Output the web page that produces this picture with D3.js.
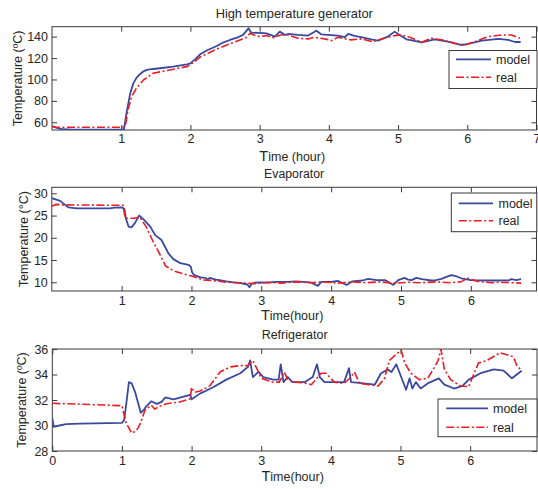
<!DOCTYPE html>
<html>
<head>
<meta charset="utf-8">
<script src="https://cdn.jsdelivr.net/npm/d3@7"></script>
<style>
  body { margin: 0; background: #fff; }
  text { font-family: Arial, "Liberation Sans", sans-serif; fill: #262626; }
</style>
</head>
<body>
<svg id="chart" width="538" height="489"></svg>
<script>
// ---- Data: [hour, temperature °C] ----
const generatorModel = [[0,56.5],[0.06,55],[0.15,53.5],[0.3,53.2],[1.0,53.2],[1.04,53.5],[1.08,70],[1.13,87],[1.175,96.4],[1.22,101.5],[1.27,104.9],[1.32,107.5],[1.37,108.9],[1.46,109.8],[1.56,110.5],[1.75,112],[1.95,114.2],[2.0,115],[2.07,119],[2.14,123.5],[2.25,127.5],[2.38,131.3],[2.47,134.5],[2.57,136.9],[2.67,139],[2.76,141.6],[2.84,147.8],[2.88,143.7],[3.0,143.5],[3.1,143],[3.22,140],[3.29,144.7],[3.37,141.6],[3.41,142.5],[3.55,141.6],[3.70,141],[3.82,145.6],[3.89,142.2],[4.13,141],[4.23,139.5],[4.28,142.5],[4.37,140.7],[4.5,139],[4.61,137.5],[4.71,136.3],[4.85,140],[4.95,144.7],[5.0,142.5],[5.12,137.5],[5.2,136.5],[5.34,134.7],[5.53,137.5],[5.72,135.3],[5.92,132.2],[6.01,133.2],[6.21,136.3],[6.45,137.9],[6.59,137],[6.69,135],[6.77,135]];
const generatorReal = [[0,56],[0.05,55.3],[1.02,55.3],[1.06,57],[1.1,72],[1.15,84],[1.22,91.8],[1.32,99.5],[1.46,105.8],[1.7,108.9],[1.95,112],[2.05,116],[2.14,121],[2.27,125],[2.4,129],[2.6,134],[2.8,139],[2.86,143],[2.92,141.5],[3.0,140],[3.1,141],[3.2,139],[3.3,141.5],[3.41,141.6],[3.55,138.5],[3.7,137.9],[3.79,139.4],[3.94,137.9],[4.04,136.3],[4.13,139.4],[4.32,137],[4.47,137.9],[4.63,135.3],[4.8,138.5],[4.95,141],[5.05,141.6],[5.17,139.4],[5.34,134.7],[5.48,138.5],[5.63,137],[5.82,133.8],[5.96,132.2],[6.11,135.3],[6.3,140],[6.5,141.6],[6.64,141.6],[6.76,138.5]];

const evaporatorModel = [[0,28.9],[0.12,28.3],[0.19,27.4],[0.236,26.85],[0.36,26.6],[0.83,26.6],[0.9,26.8],[1.0,26.85],[1.04,26.5],[1.06,24.4],[1.1,22.5],[1.14,22.35],[1.19,23.3],[1.25,25],[1.31,24.2],[1.41,22.5],[1.48,20.6],[1.57,19.5],[1.67,16.5],[1.74,15.2],[1.84,14.3],[1.96,13.9],[1.99,13.5],[2.01,12.2],[2.04,11.6],[2.13,11.1],[2.2,11.0],[2.23,10.6],[2.26,11],[2.3,10.8],[2.35,10.6],[2.4,10.5],[2.5,10.2],[2.6,10],[2.7,9.8],[2.8,9.5],[2.83,8.9],[2.86,9.6],[2.9,9.9],[3.0,10],[3.1,9.9],[3.2,10.1],[3.38,10.1],[3.5,10.2],[3.7,10],[3.81,9.2],[3.86,10.1],[4.0,10.1],[4.1,10.3],[4.22,9.4],[4.3,10.2],[4.45,10.4],[4.53,10.75],[4.65,10.5],[4.77,10.5],[4.89,9.4],[4.96,10.5],[5.05,11],[5.1,10.6],[5.15,10.5],[5.22,11],[5.3,10.7],[5.43,10.4],[5.5,10.5],[5.58,10.75],[5.65,11.2],[5.72,11.6],[5.8,11.3],[5.86,10.9],[6.0,10.5],[6.2,10.4],[6.4,10.4],[6.55,10.5],[6.58,10.7],[6.65,10.5],[6.72,10.7]];
const evaporatorReal = [[0,27.1],[0.06,27.5],[0.15,27.4],[1.02,27.3],[1.05,24.4],[1.18,24.4],[1.26,24.6],[1.35,22.5],[1.44,19.5],[1.54,16.5],[1.63,13.7],[1.74,12.6],[1.88,11.9],[2.0,11.4],[2.17,10.5],[2.31,10.4],[2.5,10.0],[2.7,9.9],[2.9,9.7],[3.1,10],[3.3,9.8],[3.5,10.1],[3.7,9.9],[3.9,10.1],[4.1,9.8],[4.3,10.1],[4.5,9.9],[4.7,10.1],[4.9,9.8],[5.1,10],[5.3,9.9],[5.5,10.1],[5.7,9.9],[5.86,10.1],[5.95,10.9],[6.1,10.2],[6.3,9.9],[6.5,10],[6.72,9.8]];

const refrigeratorModel = [[0,30.6],[0.02,29.9],[0.1,30.0],[0.2,30.1],[0.4,30.15],[1.0,30.2],[1.03,30.4],[1.06,31.6],[1.1,33.4],[1.14,33.3],[1.19,32.6],[1.24,31.6],[1.27,31.0],[1.31,31.2],[1.35,31.5],[1.42,31.9],[1.5,31.7],[1.57,31.85],[1.62,32.2],[1.74,32.05],[1.98,32.4],[2.0,32.05],[2.12,32.5],[2.31,33.0],[2.5,33.6],[2.7,34.1],[2.81,34.6],[2.84,35.1],[2.88,33.8],[2.96,34.2],[3.03,33.8],[3.17,33.6],[3.25,33.6],[3.28,34.8],[3.32,33.4],[3.38,33.8],[3.45,33.4],[3.62,33.4],[3.74,33.8],[3.8,34.8],[3.84,33.8],[3.91,33.4],[4.19,33.4],[4.26,34.5],[4.29,33.4],[4.41,33.35],[4.63,33.2],[4.72,34.1],[4.82,34.4],[4.87,34.2],[4.94,34.8],[5.01,33.8],[5.08,32.8],[5.13,33.7],[5.17,32.9],[5.22,33.4],[5.29,32.9],[5.39,33.3],[5.55,33.7],[5.63,33.2],[5.77,32.9],[5.89,33.1],[5.98,33.6],[6.15,34.1],[6.34,34.4],[6.48,34.3],[6.6,33.7],[6.74,34.3]];
const refrigeratorReal = [[0,31.74],[0.78,31.6],[1.0,31.55],[1.02,31.1],[1.06,30.2],[1.1,29.8],[1.14,29.4],[1.21,29.6],[1.26,30.1],[1.33,31.2],[1.42,31.6],[1.47,31.3],[1.54,31.5],[1.64,31.7],[1.83,31.85],[1.98,32.1],[2.0,33.0],[2.04,32.6],[2.12,32.7],[2.26,33.1],[2.41,34.2],[2.56,34.6],[2.7,34.7],[2.81,34.7],[2.88,35.1],[2.96,34.2],[3.0,33.7],[3.17,33.4],[3.26,33.4],[3.33,34.2],[3.38,33.6],[3.48,33.4],[3.62,33.35],[3.72,33.2],[3.86,34.1],[3.93,34.1],[4.05,33.4],[4.19,33.3],[4.27,33.7],[4.34,34.2],[4.41,33.3],[4.55,33.2],[4.68,33.1],[4.77,33.7],[4.84,35.1],[4.94,35.6],[5.01,35.9],[5.06,34.9],[5.15,34.1],[5.27,33.6],[5.39,33.7],[5.48,34.5],[5.54,35.1],[5.58,36.0],[5.63,34.4],[5.72,33.6],[5.86,33.1],[5.98,33.05],[6.05,34],[6.12,34.9],[6.24,35.1],[6.43,35.7],[6.55,35.5],[6.62,35.4],[6.67,34.7],[6.74,34.3]];

// ---- Tick labels ----
const generatorXTicks = [1, 2, 3, 4, 5, 6, 7];
const generatorYTicks = [60, 80, 100, 120, 140];
const evaporatorXTicks = [1, 2, 3, 4, 5, 6];
const evaporatorYTicks = [10, 15, 20, 25, 30];
const refrigeratorXTicks = [0, 1, 2, 3, 4, 5, 6];
const refrigeratorYTicks = [28, 30, 32, 34, 36];

const seriesNames = ["model", "real"];

// ---- Panel layout ----
const panels = [
  { title: "High temperature generator", model: generatorModel, real: generatorReal,
    xTicks: generatorXTicks, yTicks: generatorYTicks,
    left: 52, right: 536.5, top: 26.7, bottom: 130,
    xDomain: [0, 7], yDomain: [52.8, 149.3], xPad: 4,
    titleY: 18, titleSize: 12.8, xLabel: "ime (hour)", xLabelY: 161, yLabel: "Temperature (ºC)", yLabelX: 21.5,
    legend: { x: 449, y: 50.5, w: 88, h: 38, l1: 59.3, l2: 77.3, lx0: 456, lx1: 491, tx: 496 } },
  { title: "Evaporator", model: evaporatorModel, real: evaporatorReal,
    xTicks: evaporatorXTicks, yTicks: evaporatorYTicks,
    left: 51.8, right: 536.5, top: 187.3, bottom: 291,
    xDomain: [0, 6.94], yDomain: [8.04, 31.35], xPad: 5,
    titleY: 178, titleSize: 12.3, xLabel: "ime(hour)", xLabelY: 320, yLabel: "Temperature (°C)", yLabelX: 28,
    legend: { x: 451.3, y: 193, w: 85.5, h: 38.7, l1: 203.3, l2: 220.7, lx0: 458.7, lx1: 493, tx: 498.5 } },
  { title: "Refrigerator", model: refrigeratorModel, real: refrigeratorReal,
    xTicks: refrigeratorXTicks, yTicks: refrigeratorYTicks,
    left: 52.3, right: 537, top: 349, bottom: 451,
    xDomain: [0, 6.96], yDomain: [28, 36], xPad: 5,
    titleY: 339, titleSize: 12.5, xLabel: "ime(hour)", xLabelY: 481, yLabel: "Temperature (ºC)", yLabelX: 26,
    legend: { x: 438, y: 399, w: 99, h: 37.7, l1: 408.3, l2: 427.3, lx0: 446.3, lx1: 488, tx: 493 } }
];

const svg = d3.select("#chart");
const BLUE = "#3a48a0", RED = "#ec1c24", AXIS = "#3a3a3a";
const REAL_DASH = "8,2.5,2,2.5";
const fmt = d3.format("d");

panels.forEach((p, i) => {
  const x = d3.scaleLinear().domain(p.xDomain).range([p.left, p.right]);
  const y = d3.scaleLinear().domain(p.yDomain).range([p.bottom, p.top]);
  const g = svg.append("g");

  const clipId = "clip" + i;
  g.append("clipPath").attr("id", clipId).append("rect")
    .attr("x", p.left).attr("y", p.top)
    .attr("width", p.right - p.left).attr("height", p.bottom - p.top);

  // axes with inward ticks on all four sides
  const tick = 5;
  const bottomAxis = g.append("g").attr("transform", `translate(0,${p.bottom})`)
    .call(d3.axisBottom(x).tickValues(p.xTicks).tickFormat(fmt)
      .tickSizeInner(-tick).tickSizeOuter(0).tickPadding(p.xPad));
  const topAxis = g.append("g").attr("transform", `translate(0,${p.top})`)
    .call(d3.axisTop(x).tickValues(p.xTicks).tickSizeInner(-tick).tickSizeOuter(0).tickFormat(""));
  const leftAxis = g.append("g").attr("transform", `translate(${p.left},0)`)
    .call(d3.axisLeft(y).tickValues(p.yTicks).tickFormat(fmt)
      .tickSizeInner(-tick).tickSizeOuter(0).tickPadding(4));
  const rightAxis = g.append("g").attr("transform", `translate(${p.right},0)`)
    .call(d3.axisRight(y).tickValues(p.yTicks).tickSizeInner(-tick).tickSizeOuter(0).tickFormat(""));
  [bottomAxis, topAxis, leftAxis, rightAxis].forEach(a => {
    a.select(".domain").remove();
    a.selectAll("line").attr("stroke", AXIS).attr("stroke-width", 1);
    a.selectAll("text").attr("font-size", 12.5).attr("fill", "#262626")
      .style("font-family", "Arial, 'Liberation Sans', sans-serif");
  });

  g.append("rect")
    .attr("x", p.left).attr("y", p.top)
    .attr("width", p.right - p.left).attr("height", p.bottom - p.top)
    .attr("fill", "none").attr("stroke", AXIS).attr("stroke-width", 1);

  // series
  const line = d3.line().x(d => x(d[0])).y(d => y(d[1]));
  const lines = g.append("g").attr("clip-path", `url(#${clipId})`);
  lines.append("path").datum(p.model).attr("d", line)
    .attr("fill", "none").attr("stroke", BLUE).attr("stroke-width", 1.8)
    .attr("stroke-linejoin", "round");
  lines.append("path").datum(p.real).attr("d", line)
    .attr("fill", "none").attr("stroke", RED).attr("stroke-width", 1.6)
    .attr("stroke-dasharray", REAL_DASH);

  // title and axis labels
  g.append("text").attr("x", (p.left + p.right) / 2).attr("y", p.titleY)
    .attr("text-anchor", "middle").attr("font-size", p.titleSize).text(p.title);
  const xl = g.append("text").attr("x", (p.left + p.right) / 2 - 2).attr("y", p.xLabelY)
    .attr("text-anchor", "middle").attr("font-size", 12.5);
  xl.append("tspan").attr("font-size", 14.5).text("T");
  xl.append("tspan").text(p.xLabel);
  g.append("text")
    .attr("transform", `translate(${p.yLabelX},${(p.top + p.bottom) / 2}) rotate(-90)`)
    .attr("text-anchor", "middle").attr("font-size", 12.5).text(p.yLabel);

  // legend
  const L = p.legend;
  const lg = g.append("g");
  lg.append("rect").attr("x", L.x).attr("y", L.y).attr("width", L.w).attr("height", L.h)
    .attr("fill", "#fff").attr("stroke", AXIS).attr("stroke-width", 1);
  [[L.l1, BLUE, null, 1.8], [L.l2, RED, REAL_DASH, 1.6]].forEach((s, k) => {
    lg.append("line").attr("x1", L.lx0).attr("x2", L.lx1).attr("y1", s[0]).attr("y2", s[0])
      .attr("stroke", s[1]).attr("stroke-width", s[3]).attr("stroke-dasharray", s[2]);
    lg.append("text").attr("x", L.tx).attr("y", s[0] + 4.5).attr("font-size", 12.5)
      .text(seriesNames[k]);
  });
});
</script>
</body>
</html>
